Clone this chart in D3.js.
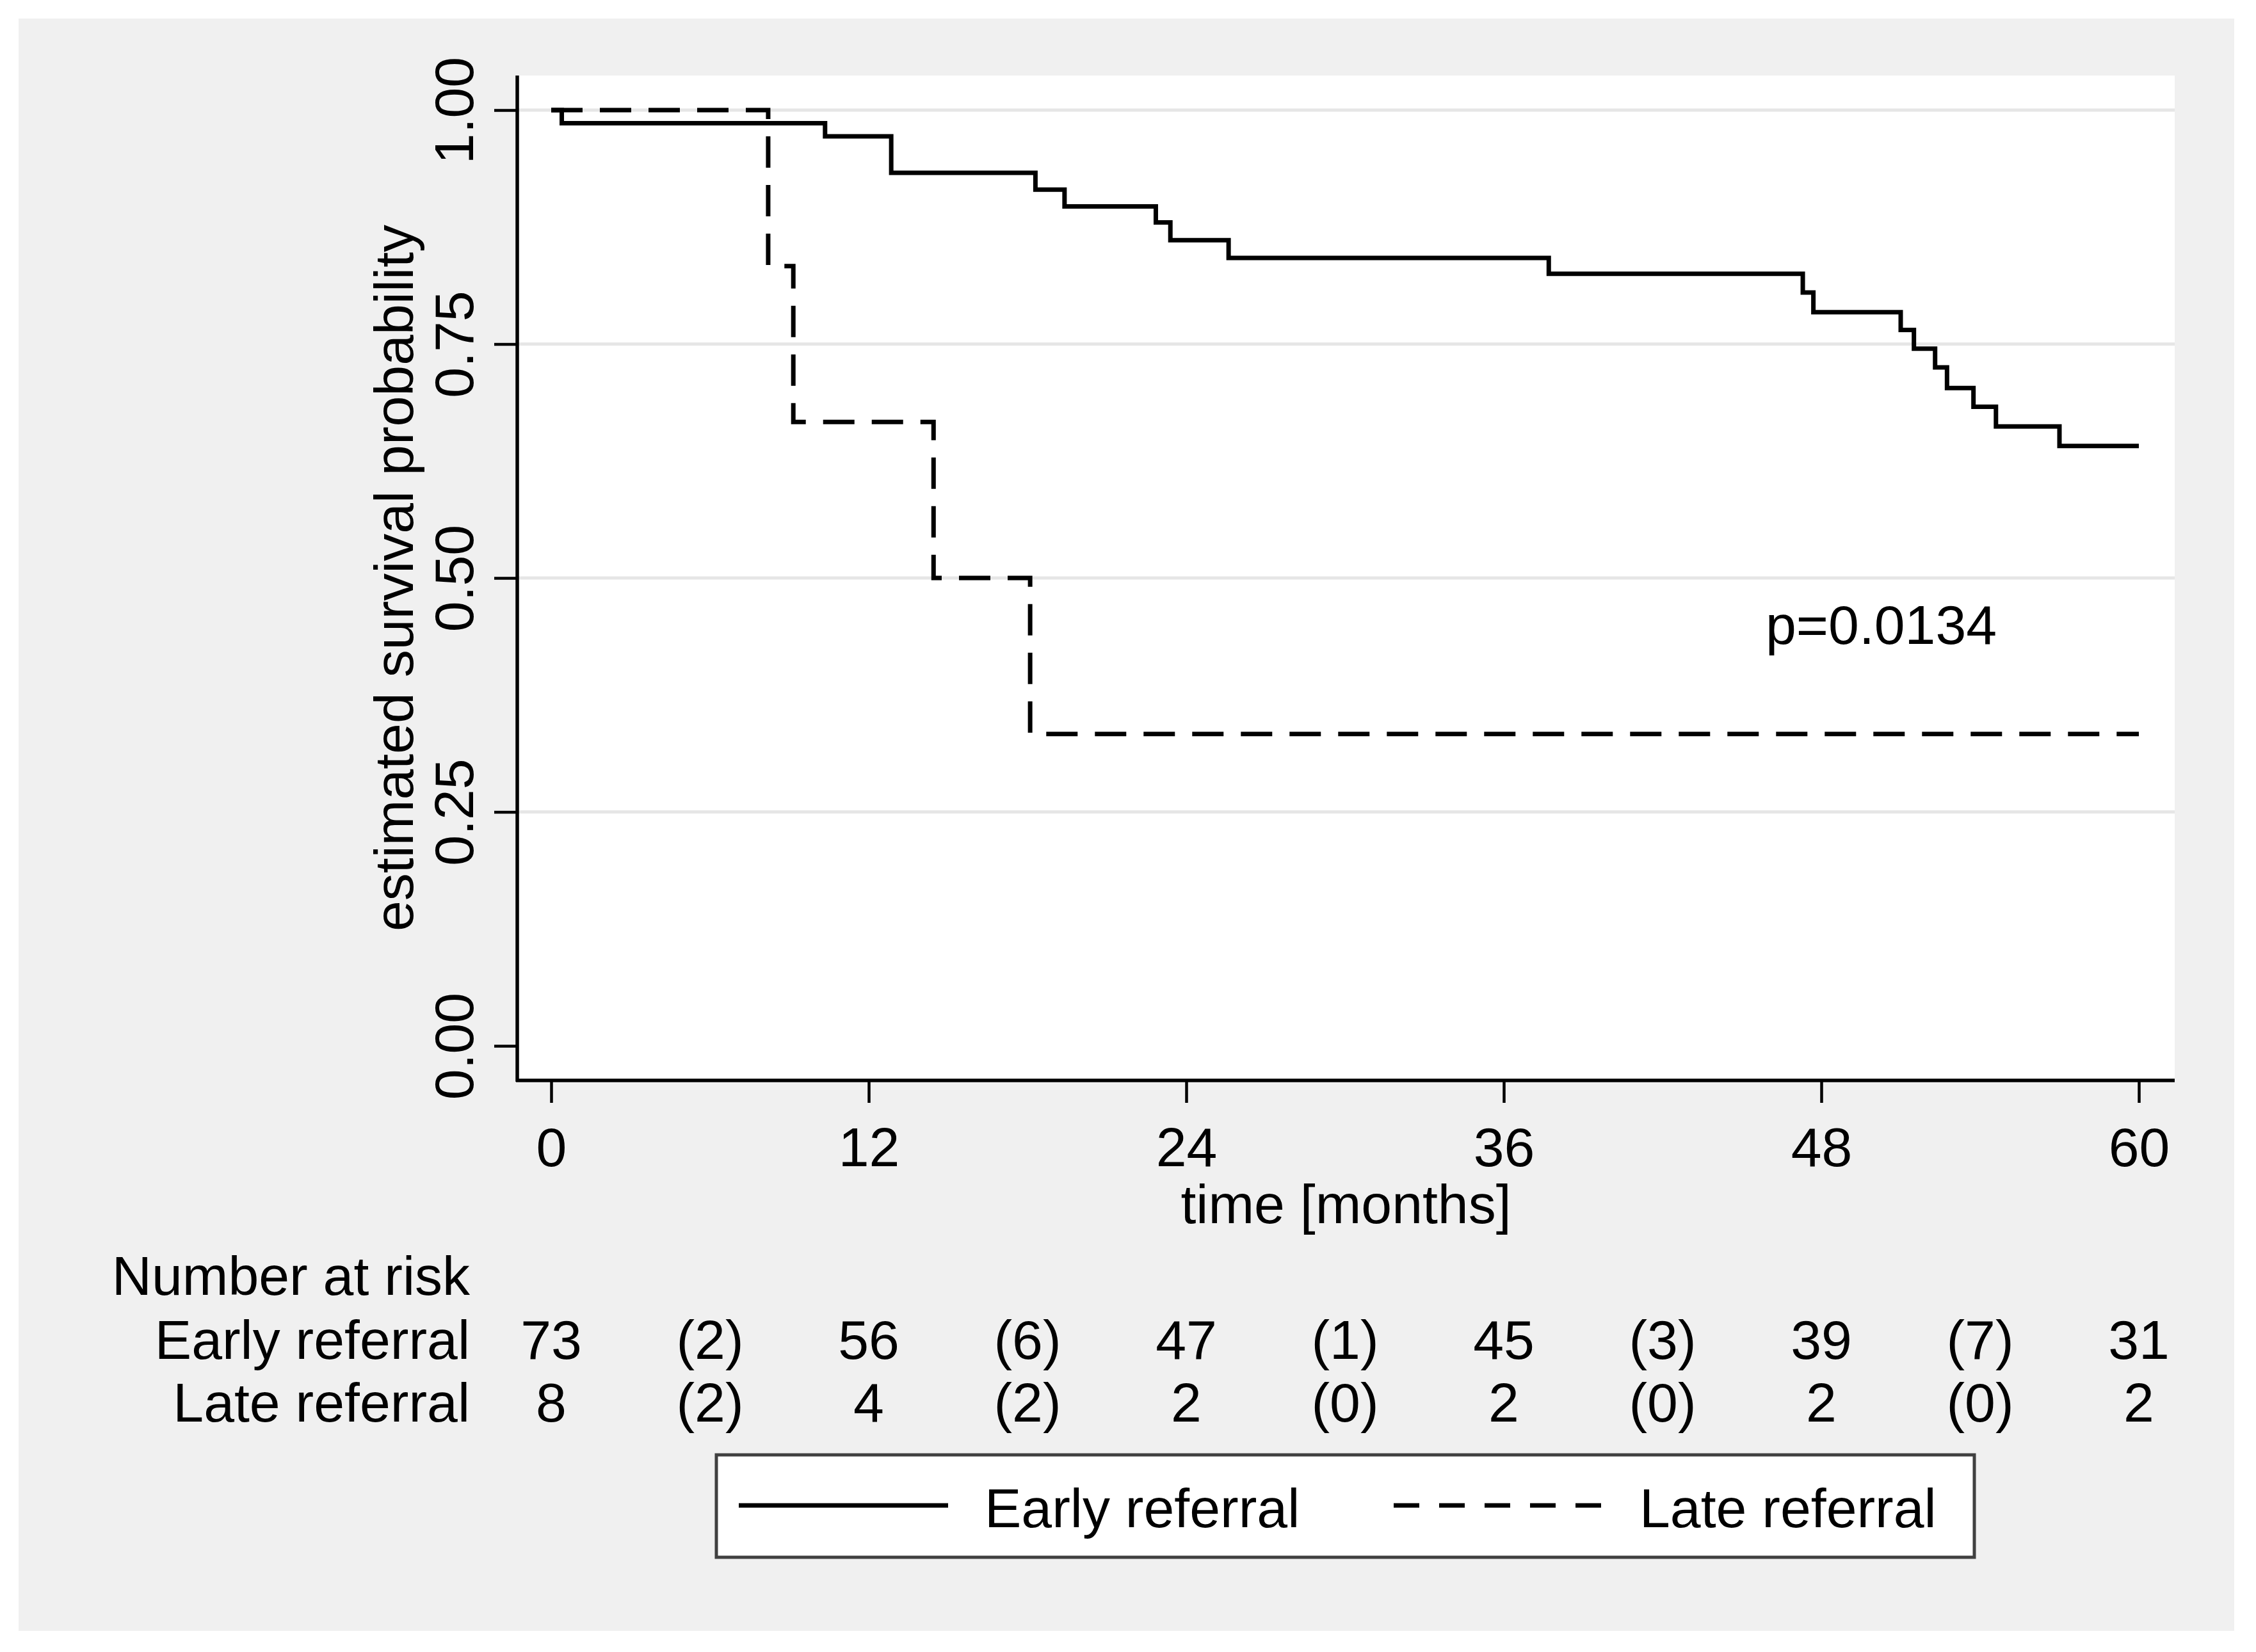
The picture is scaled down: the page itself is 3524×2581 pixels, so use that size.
<!DOCTYPE html>
<html>
<head>
<meta charset="utf-8">
<script src="https://cdn.jsdelivr.net/npm/d3@7"></script>
<style>
  body { margin: 0; background: #ffffff; }
  text { font-family: "Liberation Sans", Arial, sans-serif; fill: #000000; }
</style>
</head>
<body>
<div id="chart"></div>
<script>
// Kaplan-Meier steps (months, survival)
const earlyTimes = [0, 0.4, 10.35, 12.85, 18.3, 19.4, 22.85, 23.4, 25.6, 37.7, 47.3, 47.7, 51.0, 51.5, 52.3, 52.75, 53.75, 54.6, 57.0, 60];
const earlySurv  = [1, 0.986, 0.972, 0.933, 0.915, 0.897, 0.880, 0.861, 0.842, 0.825, 0.805, 0.784, 0.765, 0.745, 0.725, 0.703, 0.683, 0.662, 0.641, 0.641];

const lateTimes = [0, 8.2, 9.15, 14.45, 18.1, 60];
const lateSurv  = [1, 0.8333, 0.6667, 0.5, 0.3333, 0.3333];

// axis ticks
const xTicks = [0, 12, 24, 36, 48, 60];
const yTicks = [0, 0.25, 0.5, 0.75, 1];

// number at risk table
const riskTimes = [0, 12, 24, 36, 48, 60];
const censorTimes = [6, 18, 30, 42, 54];
const earlyAtRisk = [73, 56, 47, 45, 39, 31];
const earlyCensored = [2, 6, 1, 3, 7];
const lateAtRisk = [8, 4, 2, 2, 2, 2];
const lateCensored = [2, 2, 0, 0, 0];

const groupNames = ["Early referral", "Late referral"];
const pValueText = "p=0.0134";

function drawChart() {
  const width = 3524;
  const height = 2581;
  const fontSize = 86;

  // plot region
  const plotLeft = 808;
  const plotRight = 3397;
  const plotTop = 118;
  const plotBottom = 1688;

  const svg = d3.select("#chart").append("svg")
    .attr("width", width)
    .attr("height", height);

  // outer gray graph region
  svg.append("rect")
    .attr("x", 29).attr("y", 29)
    .attr("width", 3490 - 29).attr("height", 2548 - 29)
    .attr("fill", "#f0f0f0");

  // white plot region
  svg.append("rect")
    .attr("x", plotLeft).attr("y", plotTop)
    .attr("width", plotRight - plotLeft).attr("height", plotBottom - plotTop)
    .attr("fill", "#ffffff");

  const xScale = d3.scaleLinear().domain([0, 60]).range([861, 3341]);
  const yScale = d3.scaleLinear().domain([0, 1]).range([1634, 172]);

  // grid lines (not at 0)
  svg.append("g")
    .selectAll("line")
    .data(yTicks.filter(function (d) { return d > 0; }))
    .enter()
    .append("line")
    .attr("x1", plotLeft).attr("x2", plotRight)
    .attr("y1", function (d) { return yScale(d); })
    .attr("y2", function (d) { return yScale(d); })
    .attr("stroke", "#e6e6e6")
    .attr("stroke-width", 5);

  // x axis
  const axisx = d3.axisBottom(xScale).tickValues(xTicks).tickSize(35).tickSizeOuter(0).tickPadding(0);
  const gx = svg.append("g")
    .attr("transform", "translate(0," + plotBottom + ")")
    .call(axisx);
  gx.select(".domain").remove();
  gx.selectAll(".tick line").attr("stroke", "#000").attr("stroke-width", 4.5);
  gx.selectAll(".tick text")
    .attr("y", 134)
    .attr("dy", 0)
    .attr("font-size", fontSize)
    .attr("font-family", "Liberation Sans, Arial, sans-serif");
  svg.append("line")
    .attr("x1", plotLeft - 2).attr("x2", plotRight)
    .attr("y1", plotBottom).attr("y2", plotBottom)
    .attr("stroke", "#000").attr("stroke-width", 5.5);

  // y axis
  const axisy = d3.axisLeft(yScale).tickValues(yTicks).tickSize(36).tickSizeOuter(0)
    .tickFormat(d3.format(".2f"));
  const gy = svg.append("g")
    .attr("transform", "translate(" + plotLeft + ",0)")
    .call(axisy);
  gy.select(".domain").remove();
  gy.selectAll(".tick line").attr("stroke", "#000").attr("stroke-width", 4.5);
  gy.selectAll(".tick text")
    .attr("x", 0).attr("dy", 0)
    .attr("transform", "translate(-69,0) rotate(-90)")
    .attr("text-anchor", "middle")
    .attr("font-size", fontSize)
    .attr("font-family", "Liberation Sans, Arial, sans-serif");
  svg.append("line")
    .attr("x1", plotLeft).attr("x2", plotLeft)
    .attr("y1", plotTop).attr("y2", plotBottom + 2)
    .attr("stroke", "#000").attr("stroke-width", 5.5);

  // axis titles
  svg.append("text")
    .attr("transform", "translate(645," + ((plotTop + plotBottom) / 2) + ") rotate(-90)")
    .attr("text-anchor", "middle")
    .attr("font-size", fontSize)
    .text("estimated survival probability");

  svg.append("text")
    .attr("x", (plotLeft + plotRight) / 2)
    .attr("y", 1911)
    .attr("text-anchor", "middle")
    .attr("font-size", fontSize)
    .text("time [months]");

  // survival curves
  const stepLine = d3.line()
    .x(function (d) { return xScale(d.t); })
    .y(function (d) { return yScale(d.s); })
    .curve(d3.curveStepAfter);

  const earlyData = earlyTimes.map(function (t, i) { return { t: t, s: earlySurv[i] }; });
  const lateData = lateTimes.map(function (t, i) { return { t: t, s: lateSurv[i] }; });

  svg.append("path")
    .datum(earlyData)
    .attr("d", stepLine)
    .attr("fill", "none")
    .attr("stroke", "#000")
    .attr("stroke-width", 7);

  svg.append("path")
    .datum(lateData)
    .attr("d", stepLine)
    .attr("fill", "none")
    .attr("stroke", "#000")
    .attr("stroke-width", 7)
    .attr("stroke-dasharray", "49,27");

  // p value
  svg.append("text")
    .attr("x", 2758)
    .attr("y", 1006)
    .attr("font-size", fontSize)
    .text(pValueText);

  // number at risk
  const labelRight = 734;
  svg.append("text")
    .attr("x", labelRight).attr("y", 2023)
    .attr("text-anchor", "end")
    .attr("font-size", fontSize)
    .text("Number at risk");

  const rows = [
    { name: groupNames[0], risk: earlyAtRisk, cens: earlyCensored, y: 2123 },
    { name: groupNames[1], risk: lateAtRisk, cens: lateCensored, y: 2221 }
  ];

  rows.forEach(function (row) {
    svg.append("text")
      .attr("x", labelRight).attr("y", row.y)
      .attr("text-anchor", "end")
      .attr("font-size", fontSize)
      .text(row.name);

    svg.append("g")
      .selectAll("text")
      .data(row.risk)
      .enter()
      .append("text")
      .attr("x", function (d, i) { return xScale(riskTimes[i]); })
      .attr("y", row.y)
      .attr("text-anchor", "middle")
      .attr("font-size", fontSize)
      .text(function (d) { return d; });

    svg.append("g")
      .selectAll("text")
      .data(row.cens)
      .enter()
      .append("text")
      .attr("x", function (d, i) { return xScale(censorTimes[i]); })
      .attr("y", row.y)
      .attr("text-anchor", "middle")
      .attr("font-size", fontSize)
      .text(function (d) { return "(" + d + ")"; });
  });

  // legend
  const legend = svg.append("g");
  legend.append("rect")
    .attr("x", 1119).attr("y", 2273)
    .attr("width", 3084 - 1119).attr("height", 2433 - 2273)
    .attr("fill", "#ffffff")
    .attr("stroke", "#404040")
    .attr("stroke-width", 5);

  const legendItems = [
    { name: groupNames[0], x1: 1154, x2: 1481, tx: 1538, dash: null },
    { name: groupNames[1], x1: 2177, x2: 2503, tx: 2561, dash: "40,31" }
  ];

  legendItems.forEach(function (item) {
    const ln = legend.append("line")
      .attr("x1", item.x1).attr("x2", item.x2)
      .attr("y1", 2352).attr("y2", 2352)
      .attr("stroke", "#000")
      .attr("stroke-width", 7);
    if (item.dash) {
      ln.attr("stroke-dasharray", item.dash);
    }
    legend.append("text")
      .attr("x", item.tx).attr("y", 2386)
      .attr("font-size", fontSize)
      .text(item.name);
  });
}

window.addEventListener("load", drawChart);
</script>
</body>
</html>
